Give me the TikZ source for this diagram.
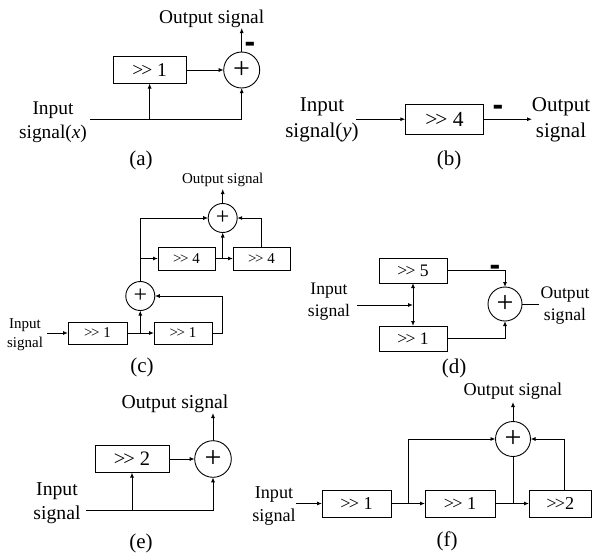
\documentclass[tikz,border=0pt]{standalone}
\usepackage{fontspec}
\setmainfont{Liberation Serif}
\newfontfamily\minusfont{Liberation Sans}
\usetikzlibrary{arrows.meta,positioning,calc}
\newcommand{\shr}{>\kern-.1em>}
\tikzset{
  sz/.style 2 args={font=\fontsize{#1}{#2}\selectfont},
  opbox/.style={draw,rectangle,line width=.9pt,inner sep=0pt,outer sep=0pt},
  adder/.style={draw,circle,line width=.9pt,inner sep=0pt,outer sep=0pt,sz={30}{30}},
  lbl/.style={inner sep=0pt,align=center,yshift=-2pt},
  sig/.style={line width=.9pt,-{Latex[length=5pt,width=4pt]}},
  wire/.style={line width=.9pt},
  minus/.style={inner sep=0pt,font=\fontsize{32}{32}\selectfont\minusfont\bfseries}
}
\begin{document}
\begin{tikzpicture}[x=1pt,y=-1pt]
\useasboundingbox (0,0) rectangle (592,552);
% (a)
\node[opbox,sz={19.5}{24},minimum width=73pt,minimum height=27pt] (abox) at (149.6,70) {\shr\ 1};
\node[adder,minimum size=36pt] (aadd) at (241.7,70) {+};
\coordinate (ain) at (90,119);
\coordinate (ajoin) at (149.6,119);
\node[lbl,sz={19.4}{24}] (aout) at (211.7,17) {Output signal};
\node[lbl,sz={19.4}{24}] (ainl) at (53,120) {Input\\signal(\textit{x})};
\node[lbl,sz={21}{24}] (acap) at (141,158) {(a)};
\node[minus] (amin) at (250,47) {-};
\coordinate (aup) at (241.7,28);
\draw[sig] (abox) -- (aadd);
\draw[sig] (ain) -| (aadd.south);
\draw[sig] (ajoin) -- (abox.south);
\draw[sig] (aadd.north) -- (aup);
% (b)
\node[opbox,sz={21.5}{26},minimum width=78.4pt,minimum height=29.7pt] (bbox) at (444.5,119.2) {\shr\ 4};
\coordinate (bin) at (356,119.2);
\coordinate (bend) at (532,119.2);
\node[lbl,sz={21}{26}] (binl) at (322,118) {Input\\signal(\textit{y})};
\node[lbl,sz={21}{26}] (boutl) at (561,117.5) {Output\\signal};
\node[lbl,sz={21}{24}] (bcap) at (449,158) {(b)};
\node[minus] (bmin) at (498,110) {-};
\draw[sig] (bin) -- (bbox);
\draw[sig] (bbox) -- (bend);
% (c)
\node[opbox,sz={15}{19},minimum width=57pt,minimum height=23pt] (cfa) at (186.5,258.5) {\shr\ 4};
\node[opbox,sz={15}{19},minimum width=57pt,minimum height=23pt] (cfb) at (261.5,258.5) {\shr\ 4};
\node[opbox,sz={15}{19},minimum width=59pt,minimum height=22pt] (coa) at (97.5,333) {\shr\ 1};
\node[opbox,sz={15}{19},minimum width=58pt,minimum height=22pt] (cob) at (183,333) {\shr\ 1};
\node[adder,minimum size=29pt,sz={24}{24}] (ctop) at (222.7,218) {+};
\node[adder,minimum size=29pt,sz={24}{24}] (clow) at (140.3,296) {+};
\coordinate (cin) at (47,333);
\coordinate (cup) at (222.7,189);
\coordinate (cjl) at (140.3,333);
\coordinate (cjr) at (222.7,258.5);
\coordinate (cjm) at (140.3,258.5);
\node[lbl,sz={15}{19}] (coutl) at (222.7,178) {Output signal};
\node[lbl,sz={15}{19}] (cinl) at (25,332.5) {Input\\signal};
\node[lbl,sz={21}{24}] (ccap) at (142,365) {(c)};
\draw[sig] (cin) -- (coa);
\draw[sig] (coa) -- (cob);
\draw[sig] (cjl) -- (clow.south);
\draw[sig] (cob.east) -| ++(10,0) |- (clow.east);
\draw[sig] (clow.north) |- (ctop.west);
\draw[sig] (cjm) -- (cfa);
\draw[sig] (cfa) -- (cfb);
\draw[sig] (cjr) -- (ctop.south);
\draw[sig] (cfb.north) |- (ctop.east);
\draw[sig] (ctop.north) -- (cup);
% (d)
\node[opbox,sz={17.6}{22},minimum width=68pt,minimum height=25pt] (dfive) at (413,270.5) {\shr\ 5};
\node[opbox,sz={17.6}{22},minimum width=68pt,minimum height=25pt] (done) at (413,338.5) {\shr\ 1};
\node[adder,minimum size=34pt] (dadd) at (505,304) {+};
\coordinate (din) at (357,305);
\coordinate (djoin) at (413,305);
\coordinate (dend) at (539,304);
\node[lbl,sz={17.6}{22}] (dinl) at (329,300) {Input\\signal};
\node[lbl,sz={17.6}{22}] (doutl) at (565,303.5) {Output\\signal};
\node[lbl,sz={21}{24}] (dcap) at (454,366) {(d)};
\node[minus] (dmin) at (495,270) {-};
\draw[sig] (din) -- (djoin);
\draw[sig] (djoin) -- (dfive);
\draw[sig] (djoin) -- (done);
\draw[sig] (dfive) -| (dadd.north);
\draw[sig] (done) -| (dadd.south);
\draw[wire] (dadd.east) -- (dend);
% (e)
\node[opbox,sz={20.5}{24},minimum width=74pt,minimum height=27pt] (ebox) at (132,459) {\shr\ 2};
\node[adder,minimum size=36.6pt] (eadd) at (213,459) {+};
\coordinate (ein) at (86,510);
\coordinate (ejoin) at (132,510);
\coordinate (eup) at (213,413);
\node[lbl,sz={19.7}{24}] (eoutl) at (175,402) {Output signal};
\node[lbl,sz={19.7}{24}] (einl) at (57,501) {Input\\signal};
\node[lbl,sz={21}{24}] (ecap) at (141,541) {(e)};
\draw[sig] (ebox) -- (eadd);
\draw[sig] (ein) -| (eadd.south);
\draw[sig] (ejoin) -- (ebox.south);
\draw[sig] (eadd.north) -- (eup);
% (f)
\node[opbox,sz={18.2}{23},minimum width=69pt,minimum height=27pt] (fa) at (356.5,503.5) {\shr\ 1};
\node[opbox,sz={18.2}{23},minimum width=70pt,minimum height=27pt] (fb) at (460,503.5) {\shr\ 1};
\node[opbox,sz={18.2}{23},minimum width=62.5pt,minimum height=27pt] (fc) at (560.25,503.5) {\shr 2};
\node[adder,minimum size=35pt] (fadd) at (513,439) {+};
\coordinate (fin) at (296,503.5);
\coordinate (fjl) at (408,503.5);
\coordinate (fjr) at (513,503.5);
\coordinate (fup) at (513,402);
\coordinate (ftop) at (564,490);
\node[lbl,sz={18.2}{23}] (foutl) at (513,389) {Output signal};
\node[lbl,sz={18.2}{23}] (finl) at (274,503.5) {Input\\signal};
\node[lbl,sz={21}{24}] (fcap) at (447,539) {(f)};
\draw[sig] (fin) -- (fa);
\draw[sig] (fa) -- (fb);
\draw[sig] (fb) -- (fc);
\draw[sig] (fjl) |- (fadd.west);
\draw[wire] (fjr) -- (fadd.south);
\draw[sig] (ftop) |- (fadd.east);
\draw[sig] (fadd.north) -- (fup);
\end{tikzpicture}
\end{document}
